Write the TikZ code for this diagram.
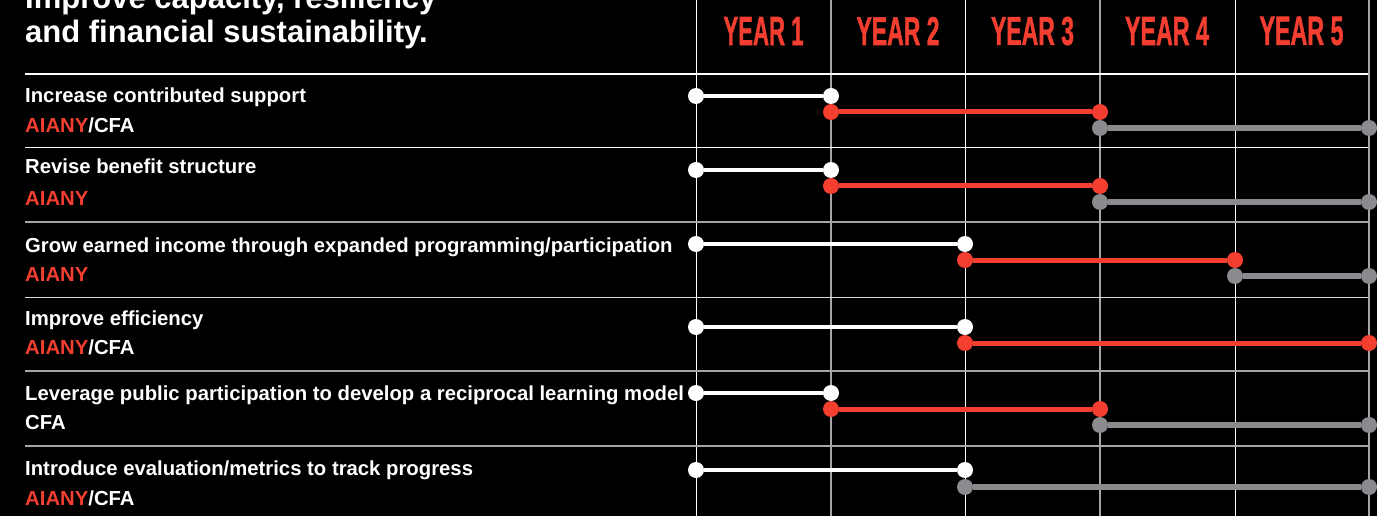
\documentclass[tikz,border=0pt]{standalone}
\usepackage{fontspec}
\setmainfont{Liberation Sans}
\newfontfamily\yearfont[FakeBold=1.5]{Liberation Sans}
\usepackage{tikz}
\usetikzlibrary{positioning}

\definecolor{aiared}{RGB}{243,62,48}
\definecolor{bargray}{RGB}{138,138,143}
\definecolor{rulegray}{RGB}{165,165,165}

\begin{document}
\begin{tikzpicture}[x=1pt,y=-1pt,
  dotw/.style={circle,fill=white,inner sep=0pt,minimum size=16pt},
  dotr/.style={circle,fill=aiared,inner sep=0pt,minimum size=16pt},
  dotg/.style={circle,fill=bargray,inner sep=0pt,minimum size=16pt},
  barw/.style={white,line width=4.5pt},
  barr/.style={aiared,line width=5pt},
  barg/.style={bargray,line width=5.5pt},
  task/.style={anchor=base west,inner sep=0pt,text=white,font=\fontsize{20.3}{22}\bfseries},
  yearlbl/.style={text=aiared,inner sep=0pt,font=\yearfont\bfseries}]
\fill[black] (0,0) rectangle (1377,516);
\useasboundingbox (0,0) rectangle (1377,516);

% grid
\draw[white,line width=1pt] (696,0)--(696,516);
\draw[rulegray,line width=1.2pt] (831,0)--(831,516);
\draw[white,line width=1pt] (965,0)--(965,516);
\draw[rulegray,line width=1.2pt] (1100,0)--(1100,516);
\draw[white,line width=1pt] (1235,0)--(1235,516);
\draw[rulegray,line width=1.2pt] (1369,0)--(1369,516);
\draw[white,line width=2.5pt] (25,74)--(1368,74);
\draw[white,line width=1pt] (25,148)--(1368,148);
\draw[rulegray,line width=1.2pt] (25,222)--(1368,222);
\draw[white!85!black,line width=1pt] (25,297)--(1368,297);
\draw[rulegray,line width=1.2pt] (25,371)--(1368,371);
\draw[rulegray,line width=1.2pt] (25,446)--(1368,446);

% heading
\node[task,font=\fontsize{31}{34}\bfseries] (head1) at (25,9) {Improve capacity, resiliency};
\node[task,font=\fontsize{31}{34}\bfseries] (head2) at (25,43) {and financial sustainability.};
\node[yearlbl] (y1) at (763.5,31) {\resizebox{80pt}{28pt}{YEAR 1}};
\node[yearlbl] (y2) at (898,31) {\resizebox{83pt}{28pt}{YEAR 2}};
\node[yearlbl] (y3) at (1032.5,31) {\resizebox{83pt}{28pt}{YEAR 3}};
\node[yearlbl] (y4) at (1167,31) {\resizebox{84pt}{28pt}{YEAR 4}};
\node[yearlbl] (y5) at (1301.5,31) {\resizebox{84pt}{28pt}{YEAR 5}};

% tasks
\node[task] (t1) at (25,103) {Increase contributed support};
\node[task] (o1) at (25,133) {\textcolor{aiared}{AIANY}/CFA};
\node[task] (t2) at (25,174) {Revise benefit structure};
\node[task] (o2) at (25,205) {\textcolor{aiared}{AIANY}};
\node[task] (t3) at (25,252) {Grow earned income through expanded programming/participation};
\node[task] (o3) at (25,281) {\textcolor{aiared}{AIANY}};
\node[task] (t4) at (25,325) {Improve efficiency};
\node[task] (o4) at (25,354) {\textcolor{aiared}{AIANY}/CFA};
\node[task] (t5) at (25,400) {Leverage public participation to develop a reciprocal learning model};
\node[task] (o5) at (25,429) {CFA};
\node[task] (t6) at (25,475) {Introduce evaluation/metrics to track progress};
\node[task] (o6) at (25,505) {\textcolor{aiared}{AIANY}/CFA};

% bars, row 1
\node[dotw] (w1a) at (696,96) {};  \node[dotw] (w1b) at (831,96) {};
\node[dotg] (g1a) at (1100,128) {}; \node[dotg] (g1b) at (1369,128) {};
\node[dotr] (r1a) at (831,112) {}; \node[dotr] (r1b) at (1100,112) {};
\draw[barw] (w1a)--(w1b);
\draw[barg] (g1a)--(g1b);
\draw[barr] (r1a)--(r1b);

% row 2
\node[dotw] (w2a) at (696,170) {};  \node[dotw] (w2b) at (831,170) {};
\node[dotg] (g2a) at (1100,202) {}; \node[dotg] (g2b) at (1369,202) {};
\node[dotr] (r2a) at (831,186) {}; \node[dotr] (r2b) at (1100,186) {};
\draw[barw] (w2a)--(w2b);
\draw[barg] (g2a)--(g2b);
\draw[barr] (r2a)--(r2b);

% row 3
\node[dotw] (w3a) at (696,244) {};  \node[dotw] (w3b) at (965,244) {};
\node[dotg] (g3a) at (1235,276) {}; \node[dotg] (g3b) at (1369,276) {};
\node[dotr] (r3a) at (965,260) {}; \node[dotr] (r3b) at (1235,260) {};
\draw[barw] (w3a)--(w3b);
\draw[barg] (g3a)--(g3b);
\draw[barr] (r3a)--(r3b);

% row 4
\node[dotw] (w4a) at (696,327) {};  \node[dotw] (w4b) at (965,327) {};
\node[dotr] (r4a) at (965,343) {}; \node[dotr] (r4b) at (1369,343) {};
\draw[barw] (w4a)--(w4b);
\draw[barr] (r4a)--(r4b);

% row 5
\node[dotw] (w5a) at (696,393) {};  \node[dotw] (w5b) at (831,393) {};
\node[dotg] (g5a) at (1100,425) {}; \node[dotg] (g5b) at (1369,425) {};
\node[dotr] (r5a) at (831,409) {}; \node[dotr] (r5b) at (1100,409) {};
\draw[barw] (w5a)--(w5b);
\draw[barg] (g5a)--(g5b);
\draw[barr] (r5a)--(r5b);

% row 6
\node[dotw] (w6a) at (696,470) {};  \node[dotw] (w6b) at (965,470) {};
\node[dotg] (g6a) at (965,487) {}; \node[dotg] (g6b) at (1369,487) {};
\draw[barw] (w6a)--(w6b);
\draw[barg] (g6a)--(g6b);

\end{tikzpicture}
\end{document}
